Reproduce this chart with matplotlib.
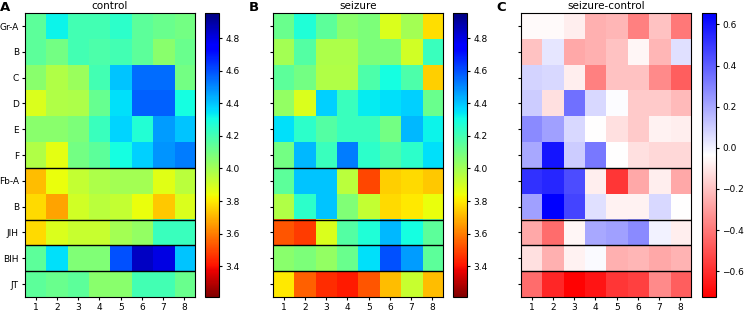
import numpy as np
import matplotlib
matplotlib.use('Agg')
import matplotlib.pyplot as plt

rows = ['Gr-A', 'B', 'C', 'D', 'E', 'F', 'Fb-A', 'B', 'JIH', 'BIH', 'JT']
cols = [1, 2, 3, 4, 5, 6, 7, 8]

control = [
    [4.15, 4.32, 4.20, 4.20, 4.25, 4.15, 4.12, 4.10],
    [4.15, 4.10, 4.20, 4.18, 4.20, 4.15, 4.05, 4.12],
    [4.05, 3.97, 4.02, 4.20, 4.40, 4.55, 4.55, 4.10],
    [3.88, 3.97, 3.98, 4.13, 4.35, 4.57, 4.57, 4.30],
    [4.05, 4.05, 4.08, 4.22, 4.37, 4.27, 4.47, 4.40],
    [3.97, 3.86, 4.10, 4.15, 4.30, 4.38, 4.48, 4.52],
    [3.72, 3.85, 3.93, 3.98, 4.00, 4.00, 3.87, 3.95],
    [3.77, 3.67, 3.90, 3.95, 3.93, 3.85, 3.74, 3.88],
    [3.77, 3.88, 3.92, 3.92, 4.00, 4.03, 4.22, 4.22],
    [4.15, 4.35, 4.07, 4.07, 4.60, 4.85, 4.80, 4.40],
    [4.15, 4.12, 4.15, 4.05, 4.05, 4.20, 4.20, 4.12],
]

seizure = [
    [4.12, 4.28, 4.15, 4.05, 4.08, 3.88, 4.00, 3.78],
    [4.00, 4.17, 3.98, 3.98, 4.08, 4.08, 3.90, 4.22],
    [4.15, 4.10, 3.97, 3.97, 4.18, 4.30, 4.18, 3.75],
    [4.03, 3.88, 4.38, 4.22, 4.33, 4.35, 4.38, 4.12],
    [4.35, 4.25, 4.17, 4.22, 4.22, 4.10, 4.42, 4.32],
    [4.10, 4.42, 4.22, 4.52, 4.25, 4.18, 4.25, 4.35],
    [4.15, 4.40, 4.40, 3.95, 3.50, 3.75, 3.77, 3.74],
    [3.97, 4.25, 4.40, 4.07, 3.93, 3.77, 3.80, 3.85],
    [3.53, 3.48, 3.88, 4.17, 4.28, 4.42, 4.30, 4.15],
    [4.05, 4.08, 4.03, 4.12, 4.35, 4.60, 4.47, 4.15],
    [3.80, 3.55, 3.45, 3.42, 3.53, 3.72, 3.92, 3.72],
]

diff = [
    [-0.05, -0.05, -0.08, -0.25, -0.23, -0.38, -0.20, -0.40],
    [-0.20, 0.03, -0.27, -0.25, -0.20, -0.06, -0.23, 0.05],
    [0.08, 0.07, -0.08, -0.38, -0.20, -0.20, -0.35, -0.47],
    [0.10, -0.12, 0.35, 0.07, -0.03, -0.18, -0.18, -0.22],
    [0.28, 0.22, 0.07, -0.04, -0.12, -0.18, -0.07, -0.08],
    [0.20, 0.60, 0.10, 0.33, -0.04, -0.12, -0.14, -0.14],
    [0.52, 0.55, 0.45, -0.08, -0.58, -0.27, -0.08, -0.27],
    [0.22, 0.65, 0.47, 0.05, -0.07, -0.07, 0.07, -0.04],
    [-0.27, -0.43, -0.06, 0.20, 0.22, 0.28, 0.00, -0.08],
    [-0.12, -0.25, -0.07, -0.02, -0.25, -0.23, -0.27, -0.24],
    [-0.43, -0.62, -0.72, -0.67, -0.58, -0.55, -0.35, -0.47],
]

group_breaks = [5.5, 7.5, 8.5, 9.5]

fig = plt.figure(figsize=(7.47, 3.12), dpi=100)

panels = [
    ('A', 'control', control, 'jet_r', 3.21, 4.955, np.arange(3.4, 4.81, 0.2), 0.0335, 0.2744),
    ('B', 'seizure', seizure, 'jet_r', 3.21, 4.955, np.arange(3.4, 4.81, 0.2), 0.3655, 0.6064),
    ('C', 'seizure-control', diff, 'bwr_r', -0.726, 0.655, np.arange(-0.6, 0.61, 0.2), 0.6975, 0.9398),
]

bottom, height = 0.048, 0.910
for i, (letter, title, data, cmap, vmin, vmax, cticks, x0, cx0) in enumerate(panels):
    ax = fig.add_axes([x0, bottom, 0.2276, height])
    im = ax.imshow(np.array(data), cmap=cmap, vmin=vmin, vmax=vmax, aspect='auto',
                   interpolation='nearest')
    for y in group_breaks:
        ax.axhline(y, color='black', lw=1)
    ax.set_xticks(range(len(cols)))
    ax.set_xticklabels(cols, fontsize=6.5)
    ax.set_yticks(range(len(rows)))
    if i == 0:
        ax.set_yticklabels(rows, fontsize=6.5)
    else:
        ax.set_yticklabels([])
    ax.tick_params(length=2.5, width=0.8, pad=2)
    ax.set_title(title, fontsize=7.5, pad=3)
    fig.text(x0 - 0.033, 0.975, letter, fontsize=9.5, fontweight='bold', va='center')
    cax = fig.add_axes([cx0, bottom, 0.0187, height])
    cb = fig.colorbar(im, cax=cax, ticks=cticks)
    cb.ax.tick_params(labelsize=6.5, length=2.5, width=0.8, pad=2)
    cb.outline.set_linewidth(0.8)

fig.savefig('out.png', dpi=100)
